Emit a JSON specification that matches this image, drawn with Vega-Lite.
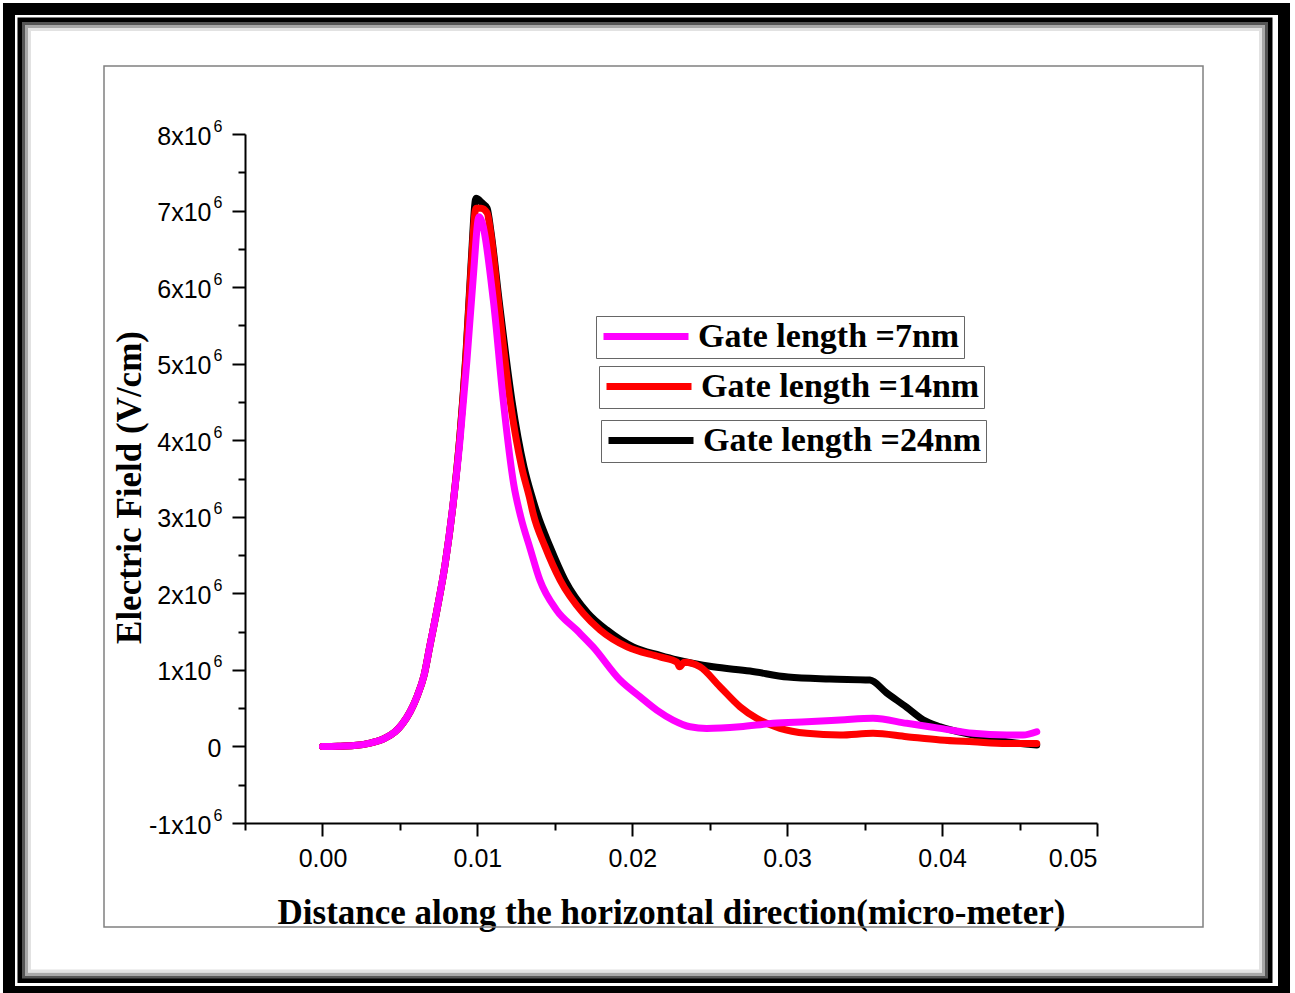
{
  "$schema": "https://vega.github.io/schema/vega-lite/v6.json",
  "width": 1295,
  "height": 993,
  "autosize": {"type": "none"},
  "padding": 0,
  "background": "white",
  "config": {
    "view": {"stroke": null},
    "axis": {
      "grid": false,
      "domainColor": "black",
      "tickColor": "black",
      "labelColor": "black",
      "domainWidth": 2,
      "tickWidth": 2,
      "labelFont": "Liberation Sans",
      "labelFontSize": 25,
      "titleFont": "Liberation Serif",
      "titleFontWeight": "bold",
      "titleFontSize": 35,
      "titleColor": "black"
    },
    "legend": {
      "orient": "none",
      "title": null,
      "symbolType": "stroke",
      "symbolSize": 7225,
      "symbolStrokeWidth": 7,
      "clipHeight": 33,
      "labelFont": "Liberation Serif",
      "labelFontWeight": "bold",
      "labelFontSize": 34,
      "labelColor": "black",
      "labelLimit": 500,
      "labelOffset": 6,
      "strokeColor": "#666666",
      "fillColor": "white",
      "padding": 4
    }
  },
  "datasets": {
    "curves": [
      {"series": "Gate length =24nm", "x": 0, "y": 0},
      {"series": "Gate length =24nm", "x": 0.001, "y": 3000},
      {"series": "Gate length =24nm", "x": 0.00204, "y": 12000},
      {"series": "Gate length =24nm", "x": 0.00307, "y": 44000},
      {"series": "Gate length =24nm", "x": 0.00404, "y": 110000},
      {"series": "Gate length =24nm", "x": 0.00468, "y": 190000},
      {"series": "Gate length =24nm", "x": 0.00514, "y": 290000},
      {"series": "Gate length =24nm", "x": 0.00565, "y": 450000},
      {"series": "Gate length =24nm", "x": 0.0061, "y": 650000},
      {"series": "Gate length =24nm", "x": 0.00656, "y": 930000},
      {"series": "Gate length =24nm", "x": 0.00694, "y": 1320000},
      {"series": "Gate length =24nm", "x": 0.00739, "y": 1780000},
      {"series": "Gate length =24nm", "x": 0.00791, "y": 2370000},
      {"series": "Gate length =24nm", "x": 0.00843, "y": 3160000},
      {"series": "Gate length =24nm", "x": 0.00888, "y": 4070000},
      {"series": "Gate length =24nm", "x": 0.00927, "y": 5150000},
      {"series": "Gate length =24nm", "x": 0.00959, "y": 6290000},
      {"series": "Gate length =24nm", "x": 0.00991, "y": 7160000},
      {"series": "Gate length =24nm", "x": 0.0103, "y": 7100000},
      {"series": "Gate length =24nm", "x": 0.01063, "y": 7030000},
      {"series": "Gate length =24nm", "x": 0.01088, "y": 6720000},
      {"series": "Gate length =24nm", "x": 0.0114, "y": 5830000},
      {"series": "Gate length =24nm", "x": 0.01223, "y": 4520000},
      {"series": "Gate length =24nm", "x": 0.01301, "y": 3650000},
      {"series": "Gate length =24nm", "x": 0.01359, "y": 3220000},
      {"series": "Gate length =24nm", "x": 0.01385, "y": 3050000},
      {"series": "Gate length =24nm", "x": 0.01469, "y": 2610000},
      {"series": "Gate length =24nm", "x": 0.01566, "y": 2170000},
      {"series": "Gate length =24nm", "x": 0.01714, "y": 1740000},
      {"series": "Gate length =24nm", "x": 0.01837, "y": 1520000},
      {"series": "Gate length =24nm", "x": 0.02005, "y": 1300000},
      {"series": "Gate length =24nm", "x": 0.02179, "y": 1190000},
      {"series": "Gate length =24nm", "x": 0.02289, "y": 1130000},
      {"series": "Gate length =24nm", "x": 0.02521, "y": 1040000},
      {"series": "Gate length =24nm", "x": 0.0276, "y": 985000},
      {"series": "Gate length =24nm", "x": 0.03005, "y": 906000},
      {"series": "Gate length =24nm", "x": 0.03276, "y": 880000},
      {"series": "Gate length =24nm", "x": 0.03534, "y": 867000},
      {"series": "Gate length =24nm", "x": 0.03642, "y": 700000},
      {"series": "Gate length =24nm", "x": 0.03772, "y": 510000},
      {"series": "Gate length =24nm", "x": 0.03877, "y": 350000},
      {"series": "Gate length =24nm", "x": 0.03988, "y": 257000},
      {"series": "Gate length =24nm", "x": 0.042, "y": 149000},
      {"series": "Gate length =24nm", "x": 0.04417, "y": 61000},
      {"series": "Gate length =24nm", "x": 0.04611, "y": 18000},

      {"series": "Gate length =14nm", "x": 0, "y": 0},
      {"series": "Gate length =14nm", "x": 0.001, "y": 3000},
      {"series": "Gate length =14nm", "x": 0.00204, "y": 12000},
      {"series": "Gate length =14nm", "x": 0.00307, "y": 44000},
      {"series": "Gate length =14nm", "x": 0.00404, "y": 110000},
      {"series": "Gate length =14nm", "x": 0.00468, "y": 190000},
      {"series": "Gate length =14nm", "x": 0.00514, "y": 290000},
      {"series": "Gate length =14nm", "x": 0.00565, "y": 450000},
      {"series": "Gate length =14nm", "x": 0.0061, "y": 650000},
      {"series": "Gate length =14nm", "x": 0.00656, "y": 930000},
      {"series": "Gate length =14nm", "x": 0.00694, "y": 1320000},
      {"series": "Gate length =14nm", "x": 0.00739, "y": 1780000},
      {"series": "Gate length =14nm", "x": 0.00791, "y": 2370000},
      {"series": "Gate length =14nm", "x": 0.00843, "y": 3160000},
      {"series": "Gate length =14nm", "x": 0.00888, "y": 4070000},
      {"series": "Gate length =14nm", "x": 0.00927, "y": 5110000},
      {"series": "Gate length =14nm", "x": 0.00959, "y": 6220000},
      {"series": "Gate length =14nm", "x": 0.00991, "y": 7030000},
      {"series": "Gate length =14nm", "x": 0.01024, "y": 7030000},
      {"series": "Gate length =14nm", "x": 0.01063, "y": 6970000},
      {"series": "Gate length =14nm", "x": 0.01086, "y": 6710000},
      {"series": "Gate length =14nm", "x": 0.01135, "y": 5830000},
      {"series": "Gate length =14nm", "x": 0.01211, "y": 4520000},
      {"series": "Gate length =14nm", "x": 0.01286, "y": 3650000},
      {"series": "Gate length =14nm", "x": 0.0134, "y": 3220000},
      {"series": "Gate length =14nm", "x": 0.01359, "y": 3050000},
      {"series": "Gate length =14nm", "x": 0.01437, "y": 2610000},
      {"series": "Gate length =14nm", "x": 0.01535, "y": 2170000},
      {"series": "Gate length =14nm", "x": 0.01683, "y": 1740000},
      {"series": "Gate length =14nm", "x": 0.01793, "y": 1520000},
      {"series": "Gate length =14nm", "x": 0.01967, "y": 1300000},
      {"series": "Gate length =14nm", "x": 0.02179, "y": 1170000},
      {"series": "Gate length =14nm", "x": 0.02289, "y": 1100000},
      {"series": "Gate length =14nm", "x": 0.02305, "y": 1040000},
      {"series": "Gate length =14nm", "x": 0.02335, "y": 1100000},
      {"series": "Gate length =14nm", "x": 0.02437, "y": 1040000},
      {"series": "Gate length =14nm", "x": 0.02566, "y": 780000},
      {"series": "Gate length =14nm", "x": 0.02695, "y": 519000},
      {"series": "Gate length =14nm", "x": 0.02803, "y": 367000},
      {"series": "Gate length =14nm", "x": 0.02954, "y": 236000},
      {"series": "Gate length =14nm", "x": 0.03126, "y": 171000},
      {"series": "Gate length =14nm", "x": 0.03341, "y": 149000},
      {"series": "Gate length =14nm", "x": 0.03554, "y": 171000},
      {"series": "Gate length =14nm", "x": 0.03772, "y": 127000},
      {"series": "Gate length =14nm", "x": 0.03988, "y": 84000},
      {"series": "Gate length =14nm", "x": 0.042, "y": 61000},
      {"series": "Gate length =14nm", "x": 0.04417, "y": 40000},
      {"series": "Gate length =14nm", "x": 0.04611, "y": 40000},

      {"series": "Gate length =7nm", "x": 0, "y": 0},
      {"series": "Gate length =7nm", "x": 0.001, "y": 3000},
      {"series": "Gate length =7nm", "x": 0.00204, "y": 12000},
      {"series": "Gate length =7nm", "x": 0.00307, "y": 44000},
      {"series": "Gate length =7nm", "x": 0.00404, "y": 110000},
      {"series": "Gate length =7nm", "x": 0.00468, "y": 190000},
      {"series": "Gate length =7nm", "x": 0.00514, "y": 290000},
      {"series": "Gate length =7nm", "x": 0.00565, "y": 450000},
      {"series": "Gate length =7nm", "x": 0.0061, "y": 650000},
      {"series": "Gate length =7nm", "x": 0.00656, "y": 930000},
      {"series": "Gate length =7nm", "x": 0.00694, "y": 1320000},
      {"series": "Gate length =7nm", "x": 0.00739, "y": 1780000},
      {"series": "Gate length =7nm", "x": 0.00791, "y": 2370000},
      {"series": "Gate length =7nm", "x": 0.00843, "y": 3160000},
      {"series": "Gate length =7nm", "x": 0.00888, "y": 4000000},
      {"series": "Gate length =7nm", "x": 0.00933, "y": 5050000},
      {"series": "Gate length =7nm", "x": 0.00972, "y": 6090000},
      {"series": "Gate length =7nm", "x": 0.01011, "y": 6920000},
      {"series": "Gate length =7nm", "x": 0.01103, "y": 5830000},
      {"series": "Gate length =7nm", "x": 0.01167, "y": 4520000},
      {"series": "Gate length =7nm", "x": 0.01235, "y": 3420000},
      {"series": "Gate length =7nm", "x": 0.0128, "y": 3000000},
      {"series": "Gate length =7nm", "x": 0.0134, "y": 2590000},
      {"series": "Gate length =7nm", "x": 0.01404, "y": 2170000},
      {"series": "Gate length =7nm", "x": 0.01512, "y": 1780000},
      {"series": "Gate length =7nm", "x": 0.01641, "y": 1520000},
      {"series": "Gate length =7nm", "x": 0.01747, "y": 1300000},
      {"series": "Gate length =7nm", "x": 0.01921, "y": 867000},
      {"series": "Gate length =7nm", "x": 0.0205, "y": 649000},
      {"series": "Gate length =7nm", "x": 0.02158, "y": 475000},
      {"series": "Gate length =7nm", "x": 0.02263, "y": 345000},
      {"series": "Gate length =7nm", "x": 0.02373, "y": 257000},
      {"series": "Gate length =7nm", "x": 0.0248, "y": 236000},
      {"series": "Gate length =7nm", "x": 0.02695, "y": 257000},
      {"series": "Gate length =7nm", "x": 0.02909, "y": 302000},
      {"series": "Gate length =7nm", "x": 0.03126, "y": 323000},
      {"series": "Gate length =7nm", "x": 0.03341, "y": 345000},
      {"series": "Gate length =7nm", "x": 0.03554, "y": 367000},
      {"series": "Gate length =7nm", "x": 0.03772, "y": 302000},
      {"series": "Gate length =7nm", "x": 0.03988, "y": 236000},
      {"series": "Gate length =7nm", "x": 0.042, "y": 171000},
      {"series": "Gate length =7nm", "x": 0.04417, "y": 149000},
      {"series": "Gate length =7nm", "x": 0.04522, "y": 149000},
      {"series": "Gate length =7nm", "x": 0.04611, "y": 192000}
    ]
  },
  "resolve": {
    "scale": {"color": "independent"},
    "axis": {"x": "independent", "y": "independent"},
    "legend": {"color": "independent"}
  },
  "layer": [
    {
      "data": {"values": [{}]},
      "mark": {"type": "rect", "filled": false, "stroke": "black", "strokeWidth": 12},
      "encoding": {
        "x": {"datum": -0.020235, "type": "quantitative", "axis": null, "scale": {"domain": [-0.005, 0.05], "range": [245, 1097], "nice": false, "zero": false}},
        "x2": {"datum": 0.062072},
        "y": {"datum": 9632800, "type": "quantitative", "axis": null, "scale": {"domain": [-1000000, 8000000], "range": [823, 134], "nice": false, "zero": false}},
        "y2": {"datum": -3207500}
      }
    },
    {
      "data": {"values": [{}]},
      "mark": {"type": "rect", "filled": false, "stroke": "black", "strokeWidth": 5},
      "encoding": {
        "x": {"datum": -0.019525, "type": "quantitative", "axis": null},
        "x2": {"datum": 0.061168},
        "y": {"datum": 9489100, "type": "quantitative", "axis": null},
        "y2": {"datum": -3057300}
      }
    },
    {
      "data": {"values": [{}]},
      "mark": {"type": "rect", "filled": false, "stroke": "#555555", "strokeWidth": 3},
      "encoding": {
        "x": {"datum": -0.019299, "type": "quantitative", "axis": null},
        "x2": {"datum": 0.060942},
        "y": {"datum": 9443400, "type": "quantitative", "axis": null},
        "y2": {"datum": -3011600}
      }
    },
    {
      "data": {"values": [{}]},
      "mark": {"type": "rect", "filled": false, "stroke": "#a8a8a8", "strokeWidth": 3},
      "encoding": {
        "x": {"datum": -0.019105, "type": "quantitative", "axis": null},
        "x2": {"datum": 0.060748},
        "y": {"datum": 9404200, "type": "quantitative", "axis": null},
        "y2": {"datum": -2972400}
      }
    },
    {
      "data": {"values": [{}]},
      "mark": {"type": "rect", "filled": false, "stroke": "#e2e2e2", "strokeWidth": 3},
      "encoding": {
        "x": {"datum": -0.018911, "type": "quantitative", "axis": null},
        "x2": {"datum": 0.060554},
        "y": {"datum": 9365000, "type": "quantitative", "axis": null},
        "y2": {"datum": -2933200}
      }
    },
    {
      "data": {"values": [{}]},
      "mark": {"type": "rect", "filled": false, "stroke": "#808080", "strokeWidth": 1.5},
      "encoding": {
        "x": {"datum": -0.014102, "type": "quantitative", "axis": null},
        "x2": {"datum": 0.056843},
        "y": {"datum": 8888200, "type": "quantitative", "axis": null},
        "y2": {"datum": -2358500}
      }
    },
    {
      "data": {"name": "curves"},
      "transform": [{"filter": "datum.series === 'Gate length =24nm'"}],
      "mark": {"type": "line", "strokeWidth": 7, "strokeCap": "round", "strokeJoin": "round", "interpolate": "monotone"},
      "encoding": {
        "x": {"field": "x", "type": "quantitative", "axis": {"orient": "bottom", "offset": -170, "values": [-0.005, 0.005, 0.015, 0.025, 0.035, 0.045], "tickSize": 7, "labels": false, "domain": false, "title": null}},
        "y": {"field": "y", "type": "quantitative", "axis": {"orient": "left", "offset": -245, "values": [-500000, 500000, 1500000, 2500000, 3500000, 4500000, 5500000, 6500000, 7500000], "tickSize": 7, "labels": false, "domain": false, "title": null}},
        "color": {"field": "series", "type": "nominal", "scale": {"domain": ["Gate length =24nm"], "range": ["#000000"]}, "legend": {"legendX": 601, "legendY": 420}}
      }
    },
    {
      "data": {"name": "curves"},
      "transform": [{"filter": "datum.series === 'Gate length =14nm'"}],
      "mark": {"type": "line", "strokeWidth": 7, "strokeCap": "round", "strokeJoin": "round", "interpolate": "monotone"},
      "encoding": {
        "x": {"field": "x", "type": "quantitative", "axis": {"orient": "bottom", "offset": -170, "values": [0, 0.01, 0.02, 0.03, 0.04, 0.05], "format": ".2f", "tickSize": 13, "labelPadding": 10, "title": "Distance along the horizontal direction(micro-meter)", "titleX": 671, "titleY": 100, "titleBaseline": "alphabetic", "titleAlign": "center"}},
        "y": {"field": "y", "type": "quantitative", "axis": {"orient": "left", "offset": -245, "values": [-1000000, 0, 1000000, 2000000, 3000000, 4000000, 5000000, 6000000, 7000000, 8000000], "labelExpr": "datum.value == 0 ? '0' : (datum.value / 1000000) + 'x10'", "labelPadding": {"condition": {"test": "datum.value == 0", "value": 11}, "value": 21}, "labelOffset": 2, "tickSize": 13, "title": "Electric Field (V/cm)", "titleX": -105, "titleY": 487, "titleAngle": 270, "titleBaseline": "alphabetic", "titleAlign": "center"}},
        "color": {"field": "series", "type": "nominal", "scale": {"domain": ["Gate length =14nm"], "range": ["#ff0000"]}, "legend": {"legendX": 599, "legendY": 366}}
      }
    },
    {
      "data": {"name": "curves"},
      "transform": [{"filter": "datum.series === 'Gate length =7nm'"}],
      "mark": {"type": "line", "strokeWidth": 7, "strokeCap": "round", "strokeJoin": "round", "interpolate": "monotone"},
      "encoding": {
        "x": {"field": "x", "type": "quantitative", "axis": null},
        "y": {"field": "y", "type": "quantitative", "axis": {"orient": "left", "offset": -245, "values": [-1000000, 1000000, 2000000, 3000000, 4000000, 5000000, 6000000, 7000000, 8000000], "labelExpr": "'6'", "labelFontSize": 16, "labelPadding": 23, "labelOffset": -8, "tickSize": 13, "ticks": false, "domain": false, "title": null}},
        "color": {"field": "series", "type": "nominal", "scale": {"domain": ["Gate length =7nm"], "range": ["#ff00ff"]}, "legend": {"legendX": 596, "legendY": 316}}
      }
    }
  ]
}
